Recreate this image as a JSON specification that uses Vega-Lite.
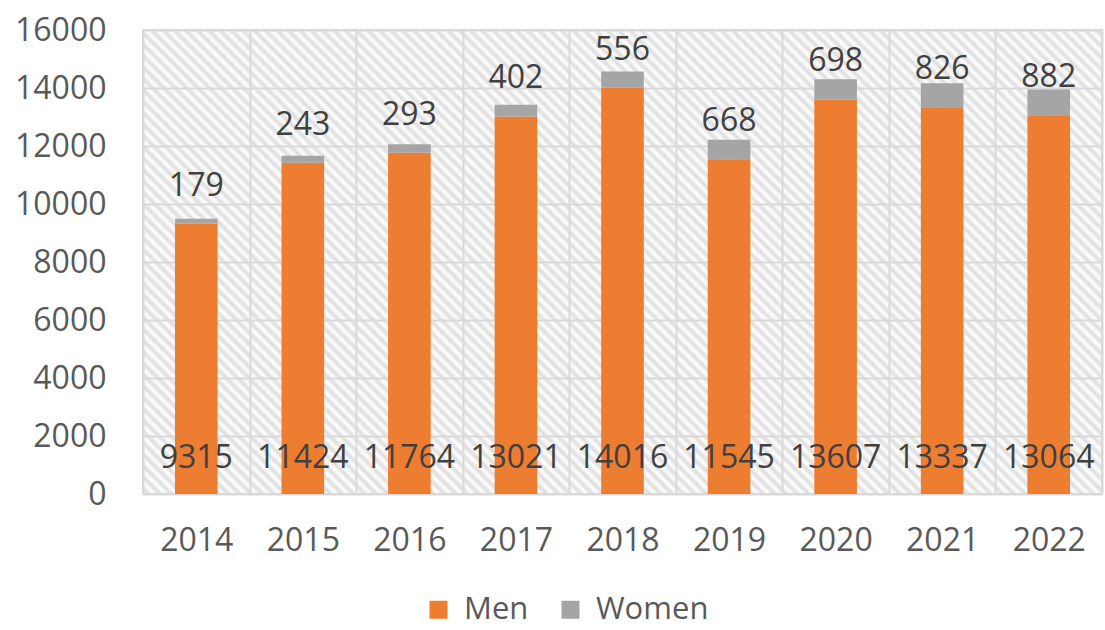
{
  "$schema": "https://vega.github.io/schema/vega-lite/v6.json",
  "width": 959,
  "height": 464,
  "autosize": "none",
  "padding": {"left": 143, "top": 30, "right": 3, "bottom": 136},
  "background": "white",
  "config": {
    "font": "Open Sans",
    "view": {"stroke": "#d9d9d9", "strokeWidth": 2, "fill": {"gradient": "linear", "x1": 0, "y1": 1, "x2": 1.2024, "y2": 0.4183, "stops": [
{"offset":0,"color":"#fff"},{"offset":0.004,"color":"#ddd"},{"offset":0.008,"color":"#fff"},{"offset":0.012,"color":"#ddd"},{"offset":0.016,"color":"#fff"},{"offset":0.02,"color":"#ddd"},{"offset":0.024,"color":"#fff"},{"offset":0.028,"color":"#ddd"},{"offset":0.032,"color":"#fff"},{"offset":0.036,"color":"#ddd"},{"offset":0.04,"color":"#fff"},{"offset":0.044,"color":"#ddd"},{"offset":0.048,"color":"#fff"},{"offset":0.052,"color":"#ddd"},{"offset":0.056,"color":"#fff"},{"offset":0.06,"color":"#ddd"},{"offset":0.064,"color":"#fff"},{"offset":0.068,"color":"#ddd"},{"offset":0.072,"color":"#fff"},{"offset":0.076,"color":"#ddd"},{"offset":0.08,"color":"#fff"},{"offset":0.084,"color":"#ddd"},{"offset":0.088,"color":"#fff"},{"offset":0.092,"color":"#ddd"},{"offset":0.096,"color":"#fff"},
{"offset":0.1,"color":"#ddd"},{"offset":0.104,"color":"#fff"},{"offset":0.108,"color":"#ddd"},{"offset":0.112,"color":"#fff"},{"offset":0.116,"color":"#ddd"},{"offset":0.12,"color":"#fff"},{"offset":0.124,"color":"#ddd"},{"offset":0.128,"color":"#fff"},{"offset":0.132,"color":"#ddd"},{"offset":0.136,"color":"#fff"},{"offset":0.14,"color":"#ddd"},{"offset":0.144,"color":"#fff"},{"offset":0.148,"color":"#ddd"},{"offset":0.152,"color":"#fff"},{"offset":0.156,"color":"#ddd"},{"offset":0.16,"color":"#fff"},{"offset":0.164,"color":"#ddd"},{"offset":0.168,"color":"#fff"},{"offset":0.172,"color":"#ddd"},{"offset":0.176,"color":"#fff"},{"offset":0.18,"color":"#ddd"},{"offset":0.184,"color":"#fff"},{"offset":0.188,"color":"#ddd"},{"offset":0.192,"color":"#fff"},{"offset":0.196,"color":"#ddd"},
{"offset":0.2,"color":"#fff"},{"offset":0.204,"color":"#ddd"},{"offset":0.208,"color":"#fff"},{"offset":0.212,"color":"#ddd"},{"offset":0.216,"color":"#fff"},{"offset":0.22,"color":"#ddd"},{"offset":0.224,"color":"#fff"},{"offset":0.228,"color":"#ddd"},{"offset":0.232,"color":"#fff"},{"offset":0.236,"color":"#ddd"},{"offset":0.24,"color":"#fff"},{"offset":0.244,"color":"#ddd"},{"offset":0.248,"color":"#fff"},{"offset":0.252,"color":"#ddd"},{"offset":0.256,"color":"#fff"},{"offset":0.26,"color":"#ddd"},{"offset":0.264,"color":"#fff"},{"offset":0.268,"color":"#ddd"},{"offset":0.272,"color":"#fff"},{"offset":0.276,"color":"#ddd"},{"offset":0.28,"color":"#fff"},{"offset":0.284,"color":"#ddd"},{"offset":0.288,"color":"#fff"},{"offset":0.292,"color":"#ddd"},{"offset":0.296,"color":"#fff"},
{"offset":0.3,"color":"#ddd"},{"offset":0.304,"color":"#fff"},{"offset":0.308,"color":"#ddd"},{"offset":0.312,"color":"#fff"},{"offset":0.316,"color":"#ddd"},{"offset":0.32,"color":"#fff"},{"offset":0.324,"color":"#ddd"},{"offset":0.328,"color":"#fff"},{"offset":0.332,"color":"#ddd"},{"offset":0.336,"color":"#fff"},{"offset":0.34,"color":"#ddd"},{"offset":0.344,"color":"#fff"},{"offset":0.348,"color":"#ddd"},{"offset":0.352,"color":"#fff"},{"offset":0.356,"color":"#ddd"},{"offset":0.36,"color":"#fff"},{"offset":0.364,"color":"#ddd"},{"offset":0.368,"color":"#fff"},{"offset":0.372,"color":"#ddd"},{"offset":0.376,"color":"#fff"},{"offset":0.38,"color":"#ddd"},{"offset":0.384,"color":"#fff"},{"offset":0.388,"color":"#ddd"},{"offset":0.392,"color":"#fff"},{"offset":0.396,"color":"#ddd"},
{"offset":0.4,"color":"#fff"},{"offset":0.404,"color":"#ddd"},{"offset":0.408,"color":"#fff"},{"offset":0.412,"color":"#ddd"},{"offset":0.416,"color":"#fff"},{"offset":0.42,"color":"#ddd"},{"offset":0.424,"color":"#fff"},{"offset":0.428,"color":"#ddd"},{"offset":0.432,"color":"#fff"},{"offset":0.436,"color":"#ddd"},{"offset":0.44,"color":"#fff"},{"offset":0.444,"color":"#ddd"},{"offset":0.448,"color":"#fff"},{"offset":0.452,"color":"#ddd"},{"offset":0.456,"color":"#fff"},{"offset":0.46,"color":"#ddd"},{"offset":0.464,"color":"#fff"},{"offset":0.468,"color":"#ddd"},{"offset":0.472,"color":"#fff"},{"offset":0.476,"color":"#ddd"},{"offset":0.48,"color":"#fff"},{"offset":0.484,"color":"#ddd"},{"offset":0.488,"color":"#fff"},{"offset":0.492,"color":"#ddd"},{"offset":0.496,"color":"#fff"},
{"offset":0.5,"color":"#ddd"},{"offset":0.504,"color":"#fff"},{"offset":0.508,"color":"#ddd"},{"offset":0.512,"color":"#fff"},{"offset":0.516,"color":"#ddd"},{"offset":0.52,"color":"#fff"},{"offset":0.524,"color":"#ddd"},{"offset":0.528,"color":"#fff"},{"offset":0.532,"color":"#ddd"},{"offset":0.536,"color":"#fff"},{"offset":0.54,"color":"#ddd"},{"offset":0.544,"color":"#fff"},{"offset":0.548,"color":"#ddd"},{"offset":0.552,"color":"#fff"},{"offset":0.556,"color":"#ddd"},{"offset":0.56,"color":"#fff"},{"offset":0.564,"color":"#ddd"},{"offset":0.568,"color":"#fff"},{"offset":0.572,"color":"#ddd"},{"offset":0.576,"color":"#fff"},{"offset":0.58,"color":"#ddd"},{"offset":0.584,"color":"#fff"},{"offset":0.588,"color":"#ddd"},{"offset":0.592,"color":"#fff"},{"offset":0.596,"color":"#ddd"},
{"offset":0.6,"color":"#fff"},{"offset":0.604,"color":"#ddd"},{"offset":0.608,"color":"#fff"},{"offset":0.612,"color":"#ddd"},{"offset":0.616,"color":"#fff"},{"offset":0.62,"color":"#ddd"},{"offset":0.624,"color":"#fff"},{"offset":0.628,"color":"#ddd"},{"offset":0.632,"color":"#fff"},{"offset":0.636,"color":"#ddd"},{"offset":0.64,"color":"#fff"},{"offset":0.644,"color":"#ddd"},{"offset":0.648,"color":"#fff"},{"offset":0.652,"color":"#ddd"},{"offset":0.656,"color":"#fff"},{"offset":0.66,"color":"#ddd"},{"offset":0.664,"color":"#fff"},{"offset":0.668,"color":"#ddd"},{"offset":0.672,"color":"#fff"},{"offset":0.676,"color":"#ddd"},{"offset":0.68,"color":"#fff"},{"offset":0.684,"color":"#ddd"},{"offset":0.688,"color":"#fff"},{"offset":0.692,"color":"#ddd"},{"offset":0.696,"color":"#fff"},
{"offset":0.7,"color":"#ddd"},{"offset":0.704,"color":"#fff"},{"offset":0.708,"color":"#ddd"},{"offset":0.712,"color":"#fff"},{"offset":0.716,"color":"#ddd"},{"offset":0.72,"color":"#fff"},{"offset":0.724,"color":"#ddd"},{"offset":0.728,"color":"#fff"},{"offset":0.732,"color":"#ddd"},{"offset":0.736,"color":"#fff"},{"offset":0.74,"color":"#ddd"},{"offset":0.744,"color":"#fff"},{"offset":0.748,"color":"#ddd"},{"offset":0.752,"color":"#fff"},{"offset":0.756,"color":"#ddd"},{"offset":0.76,"color":"#fff"},{"offset":0.764,"color":"#ddd"},{"offset":0.768,"color":"#fff"},{"offset":0.772,"color":"#ddd"},{"offset":0.776,"color":"#fff"},{"offset":0.78,"color":"#ddd"},{"offset":0.784,"color":"#fff"},{"offset":0.788,"color":"#ddd"},{"offset":0.792,"color":"#fff"},{"offset":0.796,"color":"#ddd"},
{"offset":0.8,"color":"#fff"},{"offset":0.804,"color":"#ddd"},{"offset":0.808,"color":"#fff"},{"offset":0.812,"color":"#ddd"},{"offset":0.816,"color":"#fff"},{"offset":0.82,"color":"#ddd"},{"offset":0.824,"color":"#fff"},{"offset":0.828,"color":"#ddd"},{"offset":0.832,"color":"#fff"},{"offset":0.836,"color":"#ddd"},{"offset":0.84,"color":"#fff"},{"offset":0.844,"color":"#ddd"},{"offset":0.848,"color":"#fff"},{"offset":0.852,"color":"#ddd"},{"offset":0.856,"color":"#fff"},{"offset":0.86,"color":"#ddd"},{"offset":0.864,"color":"#fff"},{"offset":0.868,"color":"#ddd"},{"offset":0.872,"color":"#fff"},{"offset":0.876,"color":"#ddd"},{"offset":0.88,"color":"#fff"},{"offset":0.884,"color":"#ddd"},{"offset":0.888,"color":"#fff"},{"offset":0.892,"color":"#ddd"},{"offset":0.896,"color":"#fff"},
{"offset":0.9,"color":"#ddd"},{"offset":0.904,"color":"#fff"},{"offset":0.908,"color":"#ddd"},{"offset":0.912,"color":"#fff"},{"offset":0.916,"color":"#ddd"},{"offset":0.92,"color":"#fff"},{"offset":0.924,"color":"#ddd"},{"offset":0.928,"color":"#fff"},{"offset":0.932,"color":"#ddd"},{"offset":0.936,"color":"#fff"},{"offset":0.94,"color":"#ddd"},{"offset":0.944,"color":"#fff"},{"offset":0.948,"color":"#ddd"},{"offset":0.952,"color":"#fff"},{"offset":0.956,"color":"#ddd"},{"offset":0.96,"color":"#fff"},{"offset":0.964,"color":"#ddd"},{"offset":0.968,"color":"#fff"},{"offset":0.972,"color":"#ddd"},{"offset":0.976,"color":"#fff"},{"offset":0.98,"color":"#ddd"},{"offset":0.984,"color":"#fff"},{"offset":0.988,"color":"#ddd"},{"offset":0.992,"color":"#fff"},{"offset":0.996,"color":"#ddd"},
{"offset":1,"color":"#fff"}
    ]}},
    "axis": {"labelFont": "Open Sans", "labelFontSize": 32, "labelColor": "#595959", "gridColor": "#d9d9d9", "gridWidth": 2, "domain": false, "ticks": false, "title": null},
    "legend": {"labelFont": "Open Sans", "labelFontSize": 31, "labelColor": "#595959"}
  },
  "data": {"values": [
    {"year": "2014", "Men": 9315, "Women": 179},
    {"year": "2015", "Men": 11424, "Women": 243},
    {"year": "2016", "Men": 11764, "Women": 293},
    {"year": "2017", "Men": 13021, "Women": 402},
    {"year": "2018", "Men": 14016, "Women": 556},
    {"year": "2019", "Men": 11545, "Women": 668},
    {"year": "2020", "Men": 13607, "Women": 698},
    {"year": "2021", "Men": 13337, "Women": 826},
    {"year": "2022", "Men": 13064, "Women": 882}
  ]},
  "encoding": {
    "x": {"field": "year", "type": "nominal", "scale": {"paddingInner": 0, "paddingOuter": 0},
      "axis": {"labelAngle": 0, "tickBand": "extent", "grid": true, "labelPadding": 31}}
  },
  "layer": [
    {
      "transform": [{"fold": ["Men", "Women"], "as": ["Gender", "value"]}],
      "mark": {"type": "bar", "width": {"band": 0.4}},
      "encoding": {
        "y": {"field": "value", "type": "quantitative", "stack": "zero",
          "scale": {"domain": [0, 16000], "nice": false},
          "axis": {"values": [0, 2000, 4000, 6000, 8000, 10000, 12000, 14000, 16000], "format": "d", "labelPadding": 37, "grid": true}},
        "color": {"field": "Gender", "type": "nominal",
          "scale": {"domain": ["Men", "Women"], "range": ["#ED7D31", "#A5A5A5"]},
          "legend": {"title": null, "orient": "none", "direction": "horizontal", "legendX": 280, "legendY": 564,
            "symbolType": "square", "symbolSize": 324, "symbolStrokeWidth": 0, "labelOffset": 10, "columnPadding": 26}},
        "order": {"field": "Gender", "sort": "ascending"}
      }
    },
    {
      "mark": {"type": "text", "baseline": "middle", "dy": -36, "fontSize": 32, "color": "#404040"},
      "encoding": {
        "y": {"datum": 0, "type": "quantitative"},
        "text": {"field": "Men", "type": "quantitative", "format": "d"}
      }
    },
    {
      "mark": {"type": "text", "baseline": "middle", "dy": -38, "fontSize": 32, "color": "#404040"},
      "encoding": {
        "y": {"field": "Men", "type": "quantitative"},
        "text": {"field": "Women", "type": "quantitative", "format": "d"}
      }
    }
  ]
}
